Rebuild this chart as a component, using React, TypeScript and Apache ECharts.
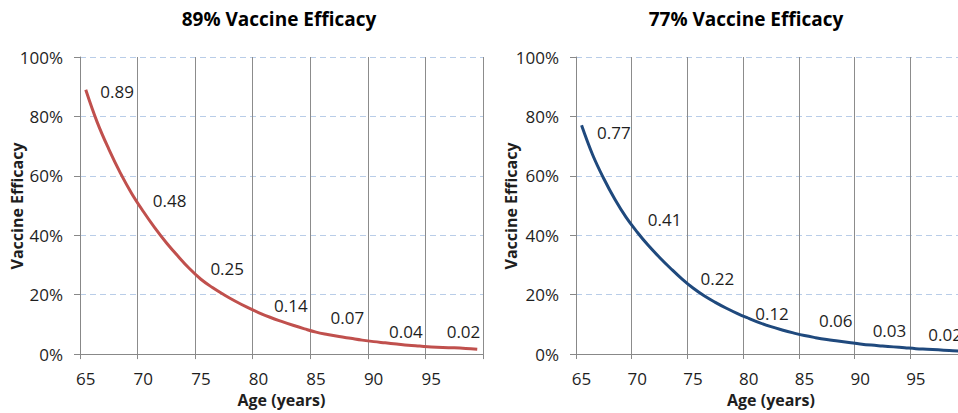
import { useEffect, useRef } from "react";
import * as echarts from "echarts";

const AGES = [
  "65", "66", "67", "68", "69", "70", "71", "72", "73", "74",
  "75", "76", "77", "78", "79", "80", "81", "82", "83", "84",
  "85", "86", "87", "88", "89", "90", "91", "92", "93", "94",
  "95", "96", "97", "98", "99",
];

const EFFICACY_89 = [
  0.89, 0.78, 0.69, 0.61, 0.54, 0.48, 0.425, 0.375, 0.33, 0.288,
  0.252, 0.224, 0.2, 0.178, 0.158, 0.14, 0.124, 0.11, 0.097, 0.085,
  0.074, 0.066, 0.059, 0.053, 0.047, 0.042, 0.038, 0.034, 0.03, 0.027,
  0.024, 0.022, 0.021, 0.019, 0.016,
];

const EFFICACY_77 = [
  0.77, 0.67, 0.59, 0.52, 0.46, 0.41, 0.365, 0.325, 0.288, 0.253,
  0.222, 0.196, 0.174, 0.154, 0.136, 0.12, 0.105, 0.092, 0.081, 0.071,
  0.062, 0.055, 0.049, 0.044, 0.039, 0.034, 0.03, 0.027, 0.024, 0.021,
  0.018, 0.016, 0.014, 0.012, 0.01,
];

const TITLES = ["89% Vaccine Efficacy", "77% Vaccine Efficacy"];
const X_NAME = "Age (years)";
const Y_NAME = "Vaccine Efficacy";
const LABEL_EVERY = 5;

// style: nudges of the data labels (px), per labelled point
const LABEL_NUDGE = [
  [[2, 2], [-3, -11], [-3, -11], [3, -7], [2, -15], [3, -10], [3, -15]],
  [[3, 7], [-2, -13], [-5, -10], [-6, -5], [2, -15], [0, -13], [0, -14]],
];

const FONT = "Open Sans";
const TEXT = "#1e1e1e";
const LINE_COLORS = ["#C0504D", "#1F497D"];
const GRID_GRAY = "#8c8c8c";

export default function App() {
  const ref = useRef<HTMLDivElement>(null);

  useEffect(() => {
    if (!ref.current) return;
    const chart = echarts.init(ref.current, null, { renderer: "svg" });

    const grids = [
      { left: 80, top: 57, width: 403, height: 298 },
      { left: 576, top: 57, width: 390, height: 297 },
    ];

    // category axes: labels only
    const catAxes = grids.map((_, gi) => ({
      type: "category",
      gridIndex: gi,
      data: AGES,
      boundaryGap: true,
      name: X_NAME,
      nameLocation: "middle",
      nameGap: 37,
      nameTextStyle: { fontFamily: FONT, fontWeight: "bold", fontSize: 16, color: TEXT },
      axisLine: { show: false },
      axisTick: { show: false },
      axisLabel: { interval: LABEL_EVERY - 1, margin: 16, fontFamily: FONT, fontSize: 17, color: TEXT },
      splitLine: { show: false },
    }));

    // boundary axes: axis line, ticks and vertical gridlines at category boundaries
    const boundaryAxes = grids.map((_, gi) => ({
      type: "value",
      gridIndex: gi,
      position: "bottom",
      min: 0,
      max: AGES.length,
      interval: LABEL_EVERY,
      axisLine: { show: true, onZero: false, lineStyle: { color: "#888888", width: 1 } },
      axisTick: { show: true, length: 5, lineStyle: { color: "#888888" } },
      axisLabel: { show: false },
      splitLine: { show: true, lineStyle: { color: GRID_GRAY, width: 1 } },
    }));

    const yAxes = grids.map((_, gi) => ({
      type: "value",
      gridIndex: gi,
      min: 0,
      max: 1,
      interval: 0.2,
      axisLine: { show: true, lineStyle: { color: "#888888", width: 1 } },
      axisTick: { show: true, length: 6, lineStyle: { color: "#888888" } },
      axisLabel: {
        margin: 17,
        fontFamily: FONT,
        fontSize: 17,
        color: TEXT,
        formatter: (v: number) => `${Math.round(v * 100)}%`,
      },
      splitLine: { show: true, lineStyle: { color: "#B9CDE8", width: 1, type: [6, 4] } },
    }));

    const seriesValues = [EFFICACY_89, EFFICACY_77];
    const series = seriesValues.map((vals, si) => ({
      type: "line",
      xAxisIndex: si,
      yAxisIndex: si,
      smooth: 0.4,
      symbol: "circle",
      symbolSize: 1,
      showSymbol: true,
      showAllSymbol: true,
      itemStyle: { color: "rgba(0,0,0,0)", borderWidth: 0 },
      lineStyle: { color: LINE_COLORS[si], width: 3 },
      z: 5,
      label: {
        show: false,
        position: "right",
        distance: 12,
        fontFamily: FONT,
        fontSize: 17,
        color: TEXT,
        formatter: (p: any) => Number(p.value).toFixed(2),
      },
      data: vals.map((v, i) => {
        if (i % LABEL_EVERY !== 0) return v;
        const k = i / LABEL_EVERY;
        const nudge = LABEL_NUDGE[si][k] || [0, -11];
        return { value: v, label: { show: true, offset: nudge } };
      }),
    }));

    const titleTexts = TITLES.map((t, i) => ({
      type: "text",
      x: i === 0 ? 279 : 746,
      y: 19,
      style: {
        text: t,
        fontFamily: FONT,
        fontWeight: "bold",
        fontSize: 19,
        fill: "#000000",
        textAlign: "center",
        textVerticalAlign: "middle",
      },
    }));

    const yNames = [
      { x: 17, y: 206 },
      { x: 511, y: 206 },
    ].map((p) => ({
      type: "text",
      x: p.x,
      y: p.y,
      rotation: Math.PI / 2,
      style: {
        text: Y_NAME,
        fontFamily: FONT,
        fontWeight: "bold",
        fontSize: 16,
        fill: TEXT,
        textAlign: "center",
        textVerticalAlign: "middle",
      },
    }));

    chart.setOption({
      animation: false,
      backgroundColor: "#ffffff",
      grid: grids,
      xAxis: [...catAxes, ...boundaryAxes],
      yAxis: yAxes,
      series,
      graphic: [...titleTexts, ...yNames],
    });

    return () => chart.dispose();
  }, []);

  return (
    <div
      style={{ position: "fixed", left: 0, top: 0, width: 958, height: 413, overflow: "hidden", background: "#fff" }}
    >
      <div ref={ref} style={{ position: "absolute", left: 0, top: 0, width: 990, height: 413 }} />
    </div>
  );
}
